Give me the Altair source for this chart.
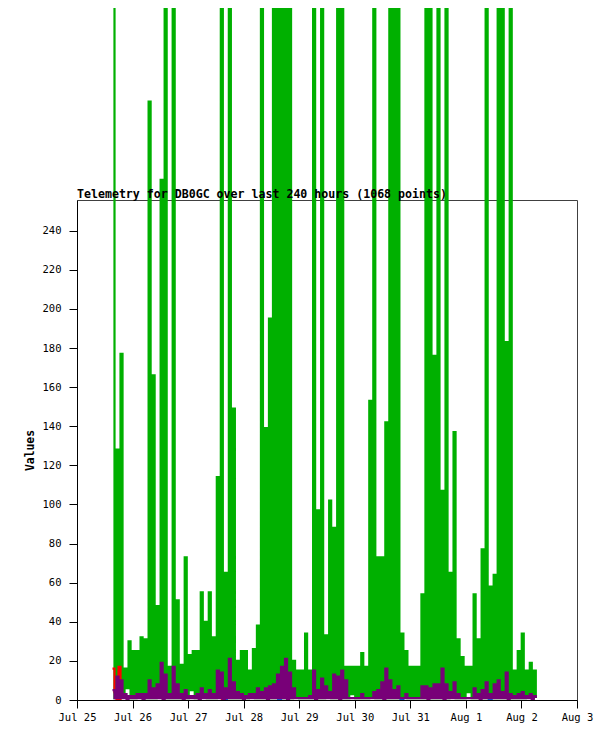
import altair as alt
import pandas as pd

# ---- time grid of the telemetry samples (UTC) ----
START = pd.Timestamp("2023-07-25 15:20:00")
STEP_MIN = 52

# ---- series values (alternating peak / trough per column) ----
green_high = [520, 128, 177, 16, 30, 25, 25, 32, 31, 306,
              166, 48, 266, 410, 17, 760, 51, 18, 73, 23,
              25, 25, 55, 40, 55, 32, 114, 455, 65, 980,
              149, 20, 25, 25, 15, 26, 38, 600, 139, 195,
              385, 700, 430, 880, 510, 20, 15, 15, 34, 15,
              640, 97, 395, 33, 102, 88, 820, 470, 17, 17,
              17, 17, 24, 17, 153, 560, 73, 73, 142, 730,
              405, 950, 34, 25, 17, 17, 17, 54, 480, 615,
              176, 390, 107, 850, 65, 137, 31, 22, 17, 17,
              54, 31, 77, 440, 58, 64, 690, 520, 183, 770,
              15, 25, 34, 15, 19, 15]
green_low = [1, 1, 2, 6, 1, 1, 2, 1, 1, 1,
             1, 2, 1, 1, 1, 1, 1, 2, 1, 5,
             1, 1, 2, 1, 1, 1, 2, 1, 1, 1,
             1, 1, 2, 1, 4, 1, 1, 1, 2, 1,
             1, 1, 1, 1, 1, 2, 1, 1, 1, 1,
             1, 1, 1, 2, 1, 1, 1, 1, 1, 3,
             1, 1, 1, 1, 2, 1, 1, 1, 1, 1,
             1, 1, 2, 1, 1, 1, 1, 1, 2, 1,
             1, 1, 1, 1, 2, 1, 1, 1, 4, 1,
             1, 2, 1, 1, 1, 1, 1, 1, 2, 1,
             1, 1, 1, 2, 1, 1]
purple_high = [5, 12, 10, 3, 2, 2, 3, 3, 3, 10,
               6, 8, 19, 13, 3, 17, 8, 3, 5, 2,
               2, 3, 6, 3, 5, 3, 15, 14, 6, 21,
               9, 4, 3, 2, 3, 3, 6, 4, 6, 7,
               8, 13, 17, 21, 14, 6, 1, 1, 1, 2,
               15, 5, 11, 7, 4, 13, 12, 15, 10, 1,
               1, 1, 3, 1, 1, 4, 5, 9, 16, 10,
               5, 7, 1, 3, 1, 1, 1, 7, 7, 6,
               8, 8, 16, 8, 4, 9, 3, 1, 1, 1,
               6, 3, 5, 9, 3, 8, 10, 4, 14, 3,
               2, 3, 4, 2, 3, 2]
purple_low = [1, 1, 1, 0, 1, 1, 1, 0, 1, 1,
              1, 1, 0, 1, 1, 1, 1, 0, 1, 1,
              1, 0, 1, 1, 1, 1, 1, 0, 1, 1,
              1, 1, 0, 1, 1, 1, 1, 1, 0, 1,
              1, 1, 1, 0, 1, 1, 1, 1, 1, 1,
              0, 1, 1, 1, 1, 1, 0, 1, 1, 1,
              1, 1, 1, 1, 1, 1, 1, 0, 1, 1,
              1, 1, 1, 1, 1, 1, 1, 1, 0, 1,
              1, 1, 0, 1, 1, 1, 1, 1, 1, 1,
              1, 0, 1, 1, 1, 1, 1, 1, 0, 1,
              1, 1, 1, 1, 0, 1]
# red / blue are zero (hidden under the axis) except for these short bursts
red_burst = [0, 0, 0, 0, 0, 1, 1, 1]
red_idx = [0, 1, 2, 3, 4, 54, 55, 56]
red_val = [16, 4, 0, 17, 0, 0, 4, 0]
blue_burst = [0, 0, 0, 1, 1, 1, 2, 2, 2, 3, 3, 3]
blue_idx = [55, 56, 57, 82, 83, 84, 143, 144, 145, 187, 188, 189]
blue_val = [0, 1, 0, 0, 1, 0, 0, 1, 0, 0, 1, 0]

# ---- axis ticks ----
x_ticks = [(2023, 7, 25), (2023, 7, 26), (2023, 7, 27), (2023, 7, 28), (2023, 7, 29),
           (2023, 7, 30), (2023, 7, 31), (2023, 8, 1), (2023, 8, 2), (2023, 8, 3)]
y_ticks = [0, 20, 40, 60, 80, 100, 120, 140, 160, 180, 200, 220, 240]
y_max = 255.7

TITLE = "Telemetry for DB0GC over last 240 hours (1068 points)"
FONT = "DejaVu Sans Mono"
PLOT_H = 500

# the title is laid out above the highest mark (the tall green spikes run off
# the top of the picture), so pull it back down to just above the plot frame
top_of_marks = PLOT_H * max(green_high) / y_max - PLOT_H + 1.15
TITLE_OFFSET = -(top_of_marks + 3.5)


def ts(i):
    return (START + pd.Timedelta(minutes=STEP_MIN * i)).strftime("%Y-%m-%dT%H:%M:%SZ")


def alternating(high, low):
    rows = []
    for j, (h, l) in enumerate(zip(high, low)):
        rows.append({"t": ts(2 * j), "v": h, "b": 0})
        rows.append({"t": ts(2 * j + 1), "v": l, "b": 0})
    return pd.DataFrame(rows)


def bursts(burst, idx, val):
    return pd.DataFrame({"t": [ts(i) for i in idx], "v": val, "b": burst})


def dt(y, m, d):
    return alt.DateTime(year=y, month=m, date=d, utc=True)


xscale = alt.Scale(type="utc", domain=[dt(*x_ticks[0]), dt(*x_ticks[-1])], nice=False)
yscale = alt.Scale(domain=[0, y_max], nice=False, zero=True)

xaxis = alt.Axis(values=[dt(*d) for d in x_ticks], format="%b %-d", title=None,
                 grid=False, labelAngle=0, tickSize=8, labelPadding=4,
                 labelFont=FONT, labelFontSize=10.5, labelColor="black",
                 domainColor="black", tickColor="black", zindex=1,
                 labelOverlap=False, labelFlush=False)
yaxis = alt.Axis(values=y_ticks, title="Values", grid=False, tickSize=8,
                 labelPadding=8, labelFont=FONT, labelFontSize=10.5,
                 labelColor="black", titleFont=FONT, titleFontSize=11.4,
                 titleFontWeight="bold", titleColor="black", titlePadding=7,
                 domainColor="black", tickColor="black", zindex=1)


def layer(df, color):
    return alt.Chart(df).mark_line(
        color=color, strokeWidth=2.2, interpolate="step-after", clip=False
    ).encode(
        x=alt.X("t:T", scale=xscale, axis=xaxis),
        y=alt.Y("v:Q", scale=yscale, axis=yaxis),
        detail="b:N",
    )


chart = alt.layer(
    layer(alternating(green_high, green_low), "#00b000"),
    layer(bursts(red_burst, red_idx, red_val), "#ff0000"),
    layer(bursts(blue_burst, blue_idx, blue_val), "#0060e0"),
    layer(alternating(purple_high, purple_low), "#780078"),
).properties(
    width=500,
    height=PLOT_H,
    title=alt.TitleParams(TITLE, anchor="start", frame="group", font=FONT,
                          fontSize=11.6, fontWeight="bold", color="black",
                          offset=TITLE_OFFSET),
    padding={"left": 69, "top": 192, "right": 25, "bottom": 28},
    autosize=alt.AutoSizeParams(type="none"),
    background="white",
).configure_view(stroke="#404040", strokeWidth=1)

chart.save("out.html", embed_options={"renderer": "svg", "actions": False})
